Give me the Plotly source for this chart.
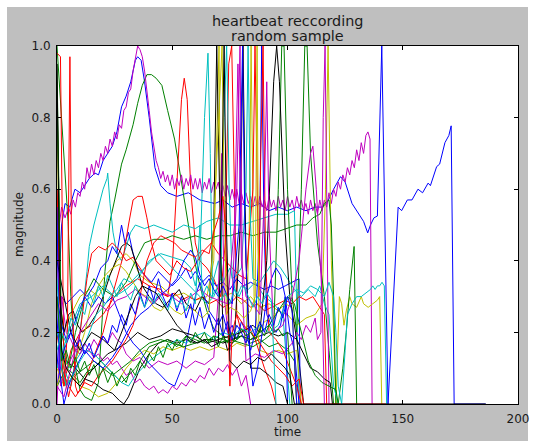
import plotly.graph_objects as go

# ---------------- data (time, magnitude) ----------------
blue_main = [(0,0.18),(2,0.5),(3.5,0.56),(5.5,0.55),(7.8,0.6),(10,0.59),(12,0.61),(14,0.63),(16.5,0.645),(18,0.64),(20,0.68),(22,0.7),(24,0.72),(26,0.76),(28,0.83),(30,0.86),(32,0.9),(34,0.96),(35,0.97),(36.5,0.96),(38,0.9),(40,0.8),(42.5,0.66),(45,0.61),(48,0.59),(52,0.58),(57,0.59),(62,0.57),(68.5,0.56),(72,0.57),(76,0.55),(80,0.56),(84,0.55),(88,0.56),(92,0.54),(96,0.55),(100,0.54),(104,0.55),(108,0.54),(112,0.55),(115,0.55),(117,0.56),(120,0.6),(123,0.635),(125,0.62),(128,0.56),(131,0.53),(133,0.51),(134.8,0.478),(136,0.5),(137.5,0.52),(139,0.525),(140.9,1.0),(143.6,0.0),(148,0.55),(149.5,0.54),(152,0.57),(154,0.57),(156.6,0.6),(158.6,0.59),(161,0.617),(162,0.61),(164.7,0.663),(166,0.67),(168.3,0.73),(170,0.75),(171,0.777),(172.3,0.0),(186,0.0)]

green_main = [(0,1.0),(2.5,0.75),(4.8,0.51),(6,0.3),(8,0.1),(10,0.04),(12,0.02),(15,0.01),(18,0.06),(20.8,0.37),(23,0.51),(25,0.57),(28,0.67),(30,0.71),(33,0.78),(35,0.84),(37,0.89),(39,0.92),(41,0.92),(43,0.91),(45.5,0.89),(48,0.82),(51,0.74),(54,0.62),(56.5,0.52),(59,0.42),(62,0.33),(65,0.26),(68,0.21),(72,0.19),(76,0.18),(80,0.19),(84,0.17),(88,0.18),(92,0.16),(96,0.17),(100,0.15),(103,0.12),(104,0.0)]

red_spikes = [(0,0.2),(3,0.05),(6,0.15),(10,0.2),(15,0.22),(20,0.25),(25,0.3),(30,0.33),(35,0.35),(40,0.33),(45,0.32),(48,0.3),(50,0.38),(52,0.6),(54,0.85),(55.2,0.91),(56.5,0.85),(58,0.6),(60,0.45),(62,0.4),(65,0.38),(68,0.35),(71,0.3),(73,0.45),(74.5,0.95),(75.8,1.0),(77,0.6),(78,0.25),(80,0.2),(83,0.22),(86,0.18),(90,0.1),(93,0.05),(95,0.0)]

cyan_hump = [(0,0.3),(3,0.1),(6,0.05),(10,0.2),(13,0.37),(14,0.44),(16,0.5),(18,0.55),(20,0.6),(21.7,0.63),(22,0.645),(23,0.56),(24.3,0.48),(26,0.42),(28,0.4),(30,0.44),(32,0.48),(34,0.5),(38,0.49),(42,0.5),(46,0.49),(50,0.48),(55,0.5),(60,0.49),(65,0.51),(70,0.52),(75,0.5),(80,0.5),(85,0.51),(90,0.52),(95,0.53),(100,0.53),(103,0.54),(105,0.0)]

magenta_main = [(0,0.9),(1,0.5),(2,0.55),(3.5,0.52),(5,0.55),(6,0.53),(7,0.57),(8,0.55),(9,0.59),(10,0.58),(11,0.62),(12,0.6),(13,0.66),(14,0.63),(15,0.67),(16,0.64),(17,0.68),(18,0.66),(19,0.7),(20,0.68),(21,0.72),(22,0.7),(23,0.74),(24,0.72),(25,0.76),(26,0.74),(27,0.78),(28,0.77),(29,0.82),(30,0.83),(31,0.87),(32,0.88),(33,0.93),(34,0.96),(35,1.0),(36,0.99),(37,0.97),(38,0.93),(39,0.88),(40,0.82),(41,0.76),(42,0.72),(43,0.68),(44,0.66),(45,0.63),(46,0.65),(47,0.62),(48,0.64),(49,0.61),(50,0.64),(51,0.6),(52,0.63),(53,0.61),(54,0.64),(55,0.6),(56,0.63),(57,0.61),(58,0.64),(59,0.6),(60,0.63),(61,0.6),(62,0.63),(63,0.59),(64,0.62),(65,0.6),(66,0.63),(67,0.59),(68,0.62),(69,0.6),(70,0.62),(71,0.58),(72,0.61),(73,0.58),(74,0.61),(75,0.57),(76,0.6),(77,0.57),(78,0.6),(79,0.56),(80,0.59),(81,0.56),(82,0.59),(83,0.56),(84,0.58),(85,0.55),(86,0.58),(87,0.55),(88,0.58),(89,0.55),(90,0.57),(91,0.54),(92,0.58),(93,0.55),(94,0.57),(95,0.54),(96,0.58),(97,0.55),(98,0.57),(99,0.54),(100,0.58),(101,0.55),(102,0.57),(103,0.54),(104,0.58),(105,0.55),(106,0.57),(107,0.54),(108,0.56),(109,0.53),(110,0.57),(111,0.54),(112,0.56),(113,0.53),(114,0.57),(115,0.54),(116,0.57),(117,0.55),(118,0.59),(119,0.56),(120,0.6),(121,0.58),(122,0.62),(123,0.6),(124,0.64),(125,0.62),(126,0.66),(127,0.64),(128,0.68),(129,0.66),(130,0.71),(131,0.68),(132,0.73),(133,0.7),(134,0.75),(134.9,0.76),(135.8,0.74),(136.7,0.0)]

yellow_mid = [(0,0.9),(1,0.3),(3,0.2),(6,0.25),(10,0.3),(14,0.32),(18,0.3),(22,0.35),(26,0.4),(30,0.42),(33,0.4),(36,0.36),(40,0.34),(45,0.33),(50,0.3),(55,0.31),(60,0.29),(65,0.3),(68,0.4),(70.3,1.0),(71,0.4),(72,0.3),(76,0.31),(80,0.28),(84,0.3),(88,0.27),(92,0.28),(96,0.26),(100,0.25),(104,0.22),(108,0.24),(112,0.25),(115,0.28),(116.5,0.6),(117.6,1.0),(119,0.4),(121,0.0),(122.5,0.3),(123.5,0.28),(124.5,0.22),(125.5,0.26),(127,0.3),(128,0.28),(130,0.27),(132,0.3),(133,0.28),(135,0.27),(137,0.28),(139,0.29),(140,0.3),(140.9,0.0)]

black_low = [(0,0.2),(2,0.15),(4,0.12),(8,0.1),(12,0.07),(16,0.06),(20,0.04),(24,0.03),(27,0.01),(29,0.0),(31,0.02),(33,0.05),(36,0.1),(40,0.14),(44,0.17),(48,0.18),(52,0.17),(56,0.18),(60,0.17),(64,0.18),(68,0.18),(72,0.17),(76,0.18),(80,0.19),(84,0.18),(88,0.19),(92,0.2),(96,0.19),(100,0.2),(104,0.18),(107,0.0)]

blue_band = [(0,0.1),(2,0.3),(4,0.28),(7,0.3),(10,0.32),(13,0.3),(16,0.33),(19,0.38),(22,0.4),(24,0.44),(26,0.42),(28,0.5),(29.5,0.45),(31,0.48),(33,0.42),(35,0.38),(38,0.36),(41,0.34),(44,0.37),(47,0.35),(50,0.33),(53,0.35),(56,0.38),(58,0.35),(60,0.37),(63,0.34),(66,0.36),(69,0.33),(72,0.34),(75,0.32),(78,0.35),(81,0.33),(84,0.34),(87,0.33),(90,0.32),(93,0.33),(96,0.32),(99,0.33),(102,0.34),(105,0.35),(105.5,0.0)]

green_flat = [(0,0.85),(2,0.2),(5,0.1),(8,0.2),(12,0.3),(16,0.35),(20,0.32),(25,0.3),(30,0.34),(34,0.4),(38,0.45),(42,0.46),(46,0.46),(50,0.47),(55,0.46),(60,0.47),(65,0.46),(70,0.47),(75,0.47),(80,0.48),(85,0.47),(90,0.48),(95,0.48),(100,0.49),(104,0.5),(108,0.5),(111,0.52),(114,0.53),(116,0.56),(118,0.57),(119,0.5),(120,0.3),(121,0.0)]

red_edge = [(0,0.98),(1.5,0.97),(3,0.1),(5,0.02),(7,0.08),(9,0.15),(11,0.25),(13,0.35),(15,0.42),(18,0.44),(21,0.43),(24,0.45),(27,0.43),(30,0.4),(33,0.41),(36,0.38),(39,0.35),(42,0.33),(45,0.31),(48,0.3),(51,0.31),(54,0.29),(57,0.3),(60,0.29),(63,0.3),(66,0.28),(69,0.29),(72,0.27),(75,0.28),(78,0.3),(81,0.29),(84,0.27),(87,0.28),(90,0.26),(93,0.27),(96,0.28),(99,0.29),(102,0.28),(105,0.3),(108,0.29),(111,0.3),(114,0.27),(116,0.25),(117,0.0)]

cyan_spike = [(0,0.1),(5,0.2),(10,0.28),(15,0.3),(20,0.33),(25,0.3),(30,0.32),(35,0.35),(40,0.4),(45,0.42),(50,0.41),(55,0.4),(58,0.38),(60,0.33),(62,0.4),(64,0.8),(65.5,0.98),(66.5,0.7),(67.5,0.3),(68,0.35),(70,0.4),(72,0.34),(75,0.38),(78,0.3),(80,0.33),(83,0.32),(86,0.34),(90,0.3),(94,0.28),(98,0.25),(101,0.0)]

magenta_low = [(0,0.0),(2,0.3),(4,0.2),(6,0.18),(8,0.15),(10,0.16),(12,0.14),(14,0.15),(16,0.13),(18,0.14),(20,0.12),(22,0.13),(24,0.11),(26,0.12),(28,0.1),(30,0.08),(32,0.09),(34,0.06),(36,0.07),(38,0.05),(40,0.04),(42,0.05),(44,0.03),(46,0.04),(48,0.03),(50,0.05),(52,0.04),(54,0.06),(56,0.05),(58,0.07),(60,0.06),(62,0.08),(64,0.07),(66,0.1),(68,0.08),(70,0.1),(72,0.09),(74,0.11),(76,0.08),(78,0.1),(80,0.05),(82,0.08),(84,0.0)]

yellow_low = [(0,0.1),(3,0.05),(6,0.08),(10,0.05),(14,0.04),(18,0.02),(22,0.03),(26,0.06),(30,0.1),(34,0.13),(38,0.15),(42,0.14),(46,0.16),(50,0.15),(54,0.16),(58,0.15),(62,0.16),(66,0.15),(70,0.16),(74,0.15),(78,0.17),(82,0.16),(83.4,0.5),(84.2,1.0),(85.5,0.3),(88,0.15),(92,0.14),(96,0.15),(100,0.14),(104,0.15),(106,0.0)]

black_hump = [(0,0.6),(1,0.3),(3,0.2),(5,0.25),(7,0.26),(9,0.22),(11,0.2),(14,0.22),(17,0.25),(20,0.3),(23,0.36),(26,0.41),(28,0.44),(30,0.45),(32,0.44),(34,0.4),(37,0.33),(40,0.3),(43,0.28),(46,0.27),(50,0.3),(53,0.32),(56,0.28),(60,0.26),(63,0.3),(66,0.28),(68,0.5),(69.3,1.0),(70.5,0.6),(72,0.2),(74,0.15),(77,0.18),(79.5,0.5),(80.7,1.0),(82,0.4),(84,0.1),(88,0.1),(92,0.08),(95,0.06),(98,0.05),(100,0.0)]

blue_low = [(0,0.05),(3,0.15),(6,0.2),(9,0.25),(12,0.3),(15,0.27),(18,0.3),(21,0.28),(24,0.3),(27,0.25),(30,0.2),(33,0.17),(36,0.15),(39,0.12),(42,0.1),(45,0.08),(48,0.06),(51,0.05),(54,0.1),(57,0.2),(60,0.3),(62,0.34),(64,0.3),(66,0.26),(68,0.24),(70,0.22),(72,0.25),(74,0.2),(76,0.22),(78,0.18),(80,0.23),(82,0.2),(84,0.15),(86,0.2),(88,0.5),(88.8,1.0),(89.8,0.5),(91,0.25),(93,0.22),(95,0.2),(97,0.22),(99,0.3),(101,0.2),(103,0.15),(105,0.0)]

green_late = [(0,0.05),(4,0.1),(8,0.08),(12,0.1),(16,0.12),(20,0.1),(24,0.08),(28,0.1),(32,0.12),(36,0.15),(40,0.17),(45,0.18),(50,0.17),(55,0.16),(60,0.17),(65,0.18),(70,0.17),(75,0.18),(80,0.17),(85,0.16),(90,0.18),(94,0.2),(96,0.6),(97.5,1.0),(98.5,1.0),(100,0.6),(102,0.3),(104,0.2),(106,0.6),(107.5,1.0),(108.5,1.0),(110,0.7),(113,0.45),(116,0.3),(118,0.15),(120,0.0),(122,0.0),(124,0.1),(125.5,0.2),(127,0.32),(128.9,0.44),(130,0.0)]

red_hump = [(0,0.6),(2,0.1),(5,0.05),(8,0.02),(11,0.05),(14,0.1),(17,0.15),(20,0.2),(23,0.28),(26,0.35),(29,0.42),(31,0.5),(33,0.57),(35,0.58),(37,0.58),(39,0.52),(41,0.45),(43,0.4),(46,0.38),(49,0.36),(52,0.4),(55,0.38),(58,0.37),(61,0.4),(64,0.43),(67,0.45),(70,0.42),(73,0.4),(76,0.38),(79,0.36),(82,0.35),(85,0.6),(85.9,1.0),(86.8,0.6),(87.6,0.3),(88.4,0.7),(89.4,1.0),(90.5,0.4),(92,0.2),(95,0.18),(98,0.15),(101,0.1),(104,0.05),(106,0.0)]

cyan_mid = [(0,0.2),(2,0.15),(5,0.1),(8,0.12),(11,0.15),(14,0.2),(17,0.25),(20,0.27),(23,0.3),(26,0.32),(29,0.35),(32,0.34),(35,0.36),(38,0.38),(41,0.4),(44,0.42),(47,0.4),(50,0.38),(53,0.36),(56,0.34),(59,0.32),(62,0.3),(65,0.28),(68,0.3),(71,0.35),(72.5,0.8),(73.6,1.0),(74.7,0.6),(76,0.35),(78,0.36),(80,0.38),(82,0.6),(82.9,1.0),(84,0.5),(85,0.35),(88,0.34),(91,0.37),(94,0.4),(97,0.38),(100,0.35),(103,0.32),(106,0.3),(109,0.32),(112,0.3),(114,0.33),(116,0.28),(118,0.25),(120,0.05),(122,0.0)]

magenta_mid = [(0,0.5),(1.5,0.05),(4,0.1),(8,0.15),(10,0.14),(12,0.17),(14,0.15),(16,0.18),(18,0.16),(20,0.19),(22,0.17),(24,0.2),(26,0.18),(28,0.17),(30,0.14),(33,0.12),(36,0.13),(40,0.1),(44,0.12),(48,0.11),(52,0.12),(56,0.1),(60,0.12),(64,0.11),(68,0.13),(70,0.3),(71.5,0.7),(72.5,0.3),(75,0.15),(78,0.6),(79.4,1.0),(80.5,0.3),(82,0.12),(86,0.14),(90,0.13),(94,0.15),(98,0.14),(102,0.17),(104,0.2),(106,0.18),(108,0.22),(110,0.2),(112,0.24),(113,0.18),(114.5,0.2),(115.5,0.8),(116.3,1.0),(117,0.6),(118,0.0)]

yellow_hump = [(0,0.05),(3,0.12),(6,0.1),(9,0.14),(12,0.2),(15,0.28),(18,0.33),(21,0.36),(24,0.38),(27,0.39),(30,0.37),(33,0.34),(36,0.31),(39,0.3),(42,0.27),(45,0.26),(48,0.28),(51,0.26),(54,0.25),(57,0.27),(60,0.26),(63,0.24),(66,0.26),(68,0.5),(71.6,1.0),(72.5,0.6),(73.5,0.25),(75,0.27),(78,0.26),(81,0.24),(84,0.26),(86,0.3),(86.8,1.0),(87.6,0.2),(90,0.23),(93,0.24),(96,0.26),(99,0.28),(102,0.27),(104,0.0)]

black_tail = [(0,0.4),(3,0.3),(6,0.2),(10,0.15),(15,0.2),(20,0.18),(25,0.15),(30,0.17),(35,0.2),(40,0.18),(45,0.19),(50,0.21),(55,0.2),(60,0.19),(65,0.17),(70,0.18),(75,0.19),(80,0.2),(85,0.22),(88,0.2),(91,0.4),(94,0.9),(95.3,1.0),(96.5,0.9),(99,0.48),(101,0.3),(104,0.18),(107,0.14),(110,0.1),(113,0.09),(116,0.07),(118.5,0.06),(119.5,0.0)]

blue_mid = [(0,0.55),(1,0.1),(3,0.0),(5,0.05),(8,0.1),(12,0.15),(16,0.12),(20,0.1),(24,0.13),(28,0.17),(32,0.22),(36,0.25),(40,0.27),(44,0.3),(48,0.32),(52,0.35),(55,0.4),(58,0.43),(60,0.41),(62,0.36),(64,0.33),(66,0.35),(68,0.32),(70,0.3),(72,0.33),(74,0.3),(76,0.28),(79,0.5),(80.5,1.0),(81.5,0.5),(83,0.2),(85,0.05),(87,0.1),(89,0.2),(91,0.3),(93,0.35),(95,0.38),(97,0.36),(99,0.3),(100,0.0)]

green_low = [(0,0.95),(1,0.5),(2,0.1),(4,0.05),(7,0.08),(10,0.06),(13,0.09),(16,0.1),(19,0.12),(22,0.1),(25,0.08),(28,0.06),(31,0.08),(34,0.1),(37,0.13),(40,0.16),(44,0.17),(48,0.18),(52,0.16),(56,0.19),(60,0.18),(64,0.17),(68,0.19),(72,0.18),(76,0.17),(80,0.19),(84,0.18),(88,0.2),(92,0.22),(96,0.26),(100,0.3),(103,0.28),(106,0.2),(109,0.12),(112,0.08),(115,0.06),(118,0.05),(121,0.04),(122,0.0)]

red_mid = [(0,0.3),(3,0.05),(4.5,0.2),(5.6,0.97),(6.5,0.3),(8,0.05),(9,0.03),(12,0.06),(15,0.05),(18,0.08),(21,0.1),(24,0.12),(27,0.15),(30,0.18),(33,0.22),(36,0.3),(39,0.4),(42,0.45),(45,0.47),(48,0.46),(51,0.45),(54,0.43),(57,0.42),(60,0.41),(63,0.43),(66,0.42),(68,0.48),(70,0.52),(72,0.58),(73,0.5),(74,0.3),(75,0.05),(76,0.2),(78,0.25),(81,0.22),(84,0.2),(87,0.18),(90,0.15),(93,0.12),(96,0.1),(99,0.08),(102,0.05),(105,0.07),(107,0.0),(143,0.0)]

cyan_late = [(0,0.35),(2,0.1),(4,0.05),(7,0.08),(10,0.12),(13,0.15),(16,0.14),(19,0.12),(22,0.1),(25,0.08),(28,0.06),(31,0.05),(34,0.08),(37,0.1),(40,0.12),(44,0.14),(48,0.16),(52,0.18),(56,0.17),(60,0.19),(64,0.2),(68,0.18),(72,0.2),(76,0.19),(80,0.21),(84,0.2),(88,0.22),(92,0.2),(96,0.22),(100,0.3),(104,0.32),(107,0.31),(110,0.33),(113,0.32),(116,0.3),(118,0.34),(120,0.3),(121,0.2),(122,0.05),(123.5,0.0),(125,0.15),(126,0.25),(128,0.28),(130,0.3),(132,0.3),(134,0.31),(136,0.32),(137,0.33),(138,0.32),(139,0.33),(140,0.33),(141,0.34),(142,0.33),(143,0.0)]

magenta_curve = [(0,0.05),(3,0.02),(6,0.1),(10,0.2),(14,0.24),(18,0.28),(22,0.26),(26,0.29),(30,0.3),(34,0.32),(38,0.3),(42,0.28),(46,0.31),(50,0.3),(54,0.28),(58,0.3),(62,0.32),(66,0.3),(70,0.29),(74,0.28),(77,0.5),(78.5,0.95),(80,0.4),(82,0.3),(85,0.28),(88,0.25),(90,0.6),(91,0.9),(92,0.5),(94,0.2),(98,0.22),(102,0.3),(105,0.4),(108,0.6),(110,0.7),(111,0.72),(112.5,0.6),(114,0.44),(115,0.3),(116,0.0)]

cyan_noisy = [(0,0.15),(2,0.2),(4,0.17),(6,0.24),(8,0.22),(10,0.27),(12,0.25),(14,0.31),(16,0.28),(18,0.33),(20,0.3),(22,0.36),(24,0.33),(26,0.3),(28,0.34),(30,0.31),(32,0.29),(34,0.33),(36,0.3),(38,0.27),(40,0.3),(42,0.28),(44,0.31),(46,0.29),(48,0.26),(50,0.3),(52,0.27),(54,0.29),(56,0.26),(58,0.31),(60,0.28),(62,0.5),(63,0.3),(65,0.33),(67,0.3),(69,0.32),(71,0.29),(73,0.31),(75,0.28),(77,0.32),(79,0.3),(81,0.33),(83,0.3),(85,0.27),(87,0.3),(89,0.28),(91,0.31),(93,0.29),(95,0.0)]

blue_noisy = [(0,0.3),(2,0.22),(4,0.18),(6,0.2),(8,0.16),(10,0.18),(12,0.14),(14,0.17),(16,0.13),(18,0.16),(20,0.19),(22,0.17),(24,0.22),(26,0.2),(28,0.25),(30,0.22),(32,0.28),(34,0.25),(36,0.31),(38,0.27),(40,0.33),(42,0.29),(44,0.35),(46,0.3),(48,0.27),(50,0.31),(52,0.26),(54,0.3),(56,0.24),(58,0.28),(60,0.22),(62,0.27),(64,0.21),(66,0.25),(68,0.2),(70,0.24),(72,0.19),(74,0.23),(76,0.18),(78,0.22),(80,0.2),(82,0.17),(84,0.22),(86,0.19),(88,0.23),(90,0.2),(92,0.25),(94,0.22),(96,0.27),(98,0.24),(100,0.3),(102,0.26),(104,0.0)]

green_noisy = [(0,0.3),(2,0.12),(4,0.15),(6,0.1),(8,0.13),(10,0.09),(12,0.12),(14,0.08),(16,0.11),(18,0.07),(20,0.1),(22,0.06),(24,0.09),(26,0.05),(28,0.08),(30,0.06),(32,0.1),(34,0.08),(36,0.12),(38,0.1),(40,0.14),(42,0.12),(44,0.16),(46,0.13),(48,0.17),(50,0.15),(52,0.18),(54,0.16),(56,0.19),(58,0.17),(60,0.2),(62,0.18),(64,0.2),(66,0.17),(68,0.19),(70,0.16),(72,0.19),(74,0.17),(76,0.2),(78,0.18),(80,0.21),(82,0.19),(84,0.2),(86,0.18),(88,0.21),(90,0.19),(92,0.22),(94,0.2),(96,0.21),(98,0.19),(100,0.2),(102,0.0)]

black_spike = [(0,0.95),(1,0.4),(2,0.15),(4,0.1),(7,0.07),(10,0.05),(13,0.08),(16,0.1),(19,0.12),(22,0.14),(25,0.15),(28,0.2),(31,0.25),(34,0.3),(37,0.33),(40,0.32),(43,0.31),(46,0.28),(49,0.25),(52,0.22),(55,0.2),(58,0.18),(61,0.17),(64,0.18),(67,0.16),(70,0.17),(71.5,0.6),(72.5,1.0),(73.5,0.5),(75,0.12),(78,0.1),(81,0.12),(84,0.11),(87,0.13),(90,0.12),(93,0.14),(96,0.12),(99,0.1),(101,0.08),(103,0.0),(186,0.0)]

x_ticks = [0, 50, 100, 150, 200]
y_ticks = [0.0, 0.2, 0.4, 0.6, 0.8, 1.0]
y_tick_text = ["0.0", "0.2", "0.4", "0.6", "0.8", "1.0"]

# matplotlib classic colour cycle
B, G, R, C, M, Y, K = "#0000ff", "#008000", "#ff0000", "#00bfbf", "#bf00bf", "#bfbf00", "#000000"

series = [
    (blue_main, B), (green_main, G), (red_spikes, R), (cyan_hump, C), (magenta_main, M), (yellow_mid, Y), (black_low, K),
    (blue_band, B), (green_flat, G), (red_edge, R), (cyan_spike, C), (magenta_low, M), (yellow_low, Y), (black_hump, K),
    (blue_low, B), (green_late, G), (red_hump, R), (cyan_mid, C), (magenta_mid, M), (yellow_hump, Y), (black_tail, K),
    (blue_mid, B), (green_low, G), (red_mid, R), (cyan_late, C), (magenta_curve, M),
    (blue_noisy, B), (green_noisy, G), (cyan_noisy, C), (black_spike, K),
]

fig = go.Figure()
for pts, col in series:
    t, v = zip(*pts)
    fig.add_trace(go.Scatter(x=list(t), y=list(v), mode="lines",
                             line=dict(color=col, width=1),
                             hoverinfo="skip", showlegend=False))

W, H = 533, 444
L, Rm, T, Bm = 57, 15, 46, 40
pw, ph = W - L - Rm, H - T - Bm

def px_x(p):
    return (p - L) / pw

def px_y(p):
    return (H - Bm - p) / ph

font = "DejaVu Sans"
txt = "#1a1a1a"
axis_common = dict(showline=True, linecolor="black", linewidth=1, mirror="ticks",
                   ticks="inside", ticklen=4, tickcolor="black", showgrid=False,
                   zeroline=False, automargin=False, ticklabeloverflow="allow",
                   tickfont=dict(family=font, size=12, color=txt))

fig.update_layout(
    width=W, height=H, autosize=False,
    margin=dict(l=L, r=Rm, t=T, b=Bm, autoexpand=False),
    paper_bgcolor="white", plot_bgcolor="white",
    xaxis=dict(range=[0, 200], tickvals=x_ticks, ticklabelstandoff=4, **axis_common),
    yaxis=dict(range=[0, 1], tickvals=y_ticks, ticktext=y_tick_text, ticklabelstandoff=3, **axis_common),
    shapes=[
        dict(type="rect", xref="paper", yref="paper", x0=px_x(7), x1=px_x(528), y0=px_y(441), y1=px_y(7),
             fillcolor="#bfbfbf", line=dict(width=0), layer="below"),
        dict(type="rect", xref="paper", yref="paper", x0=0, x1=1, y0=0, y1=1,
             fillcolor="white", line=dict(width=0), layer="below"),
    ],
    annotations=[
        dict(text="heartbeat reccording", xref="paper", yref="paper", x=0.5, y=px_y(21),
             xanchor="center", yanchor="middle", showarrow=False,
             font=dict(family=font, size=14.4, color=txt)),
        dict(text="random sample", xref="paper", yref="paper", x=0.5, y=px_y(36),
             xanchor="center", yanchor="middle", showarrow=False,
             font=dict(family=font, size=14.4, color=txt)),
        dict(text="time", xref="paper", yref="paper", x=0.5, y=px_y(432), xanchor="center", yanchor="middle",
             showarrow=False, font=dict(family=font, size=12, color=txt)),
        dict(text="magnitude", xref="paper", yref="paper", x=px_x(19), y=0.5, xanchor="center", yanchor="middle",
             textangle=-90, showarrow=False, font=dict(family=font, size=12, color=txt)),
    ],
)

fig.write_html("out.html",
               config={"displayModeBar": False, "responsive": False, "staticPlot": True},
               post_script="document.body.style.margin='0';document.body.style.overflow='hidden';")
